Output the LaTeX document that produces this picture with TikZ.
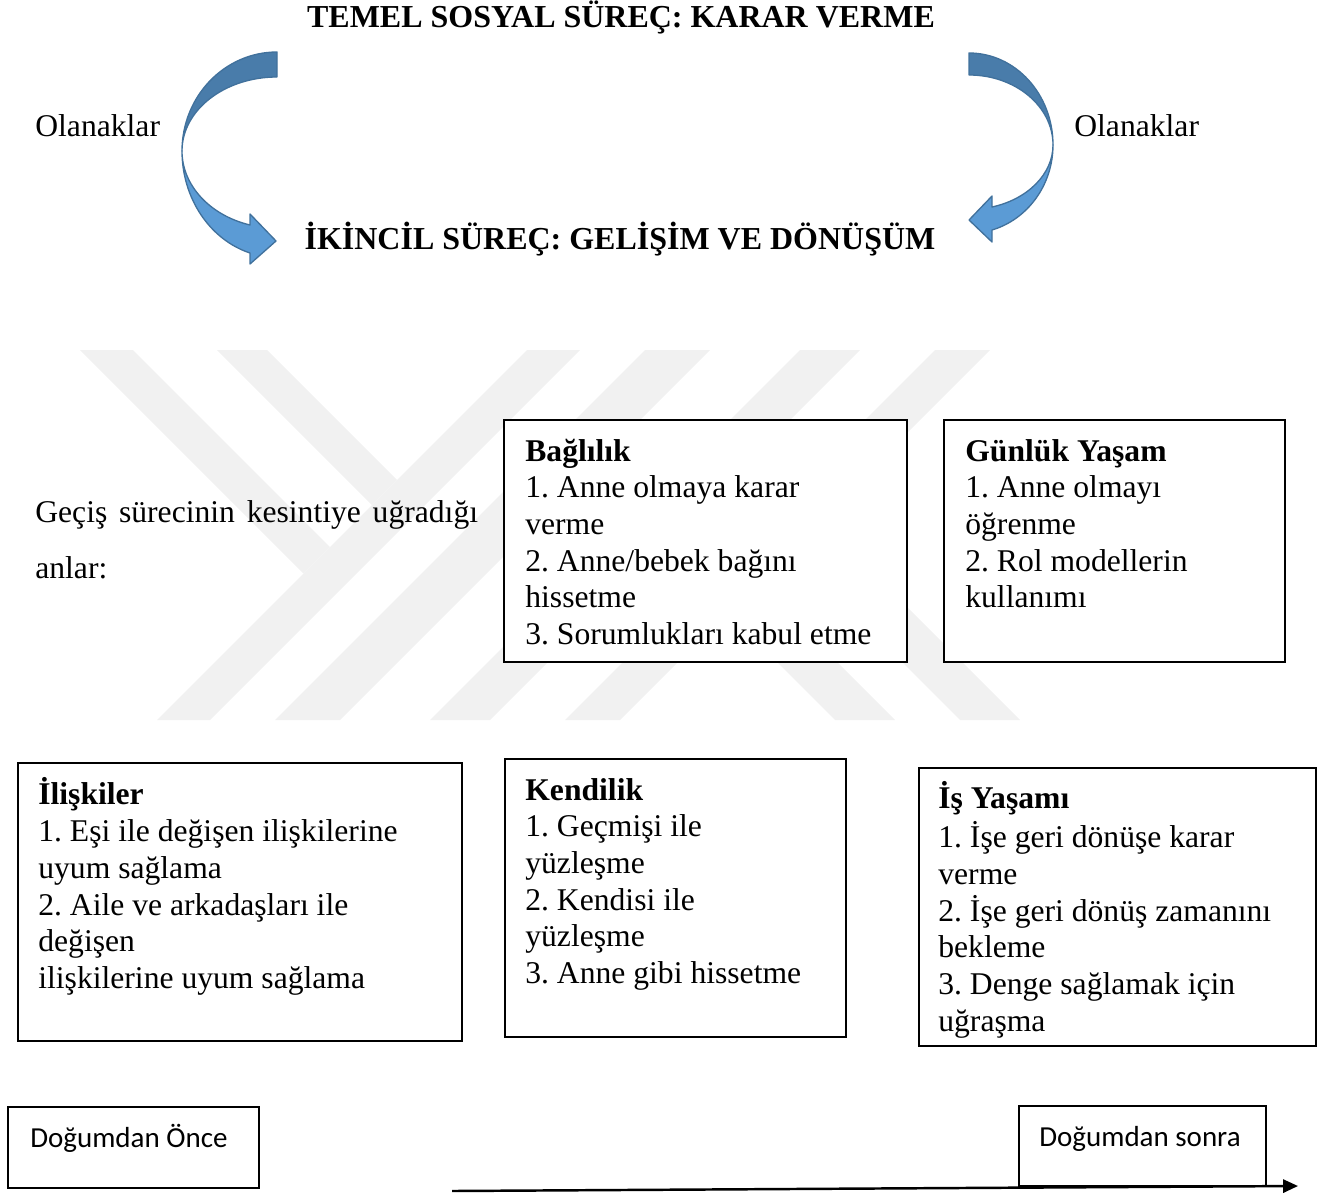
\documentclass[tikz,border=0pt]{standalone}
\usepackage{fontspec}
\setmainfont{Liberation Serif}
\newfontfamily\calibri{Carlito}
\usetikzlibrary{arrows.meta}
\frenchspacing

\definecolor{okkoyu}{RGB}{73,124,170}
\definecolor{okacik}{RGB}{91,155,213}
\definecolor{okcizgi}{RGB}{65,113,156}
\definecolor{filigran}{RGB}{241,241,241}

\tikzstyle{kutu} = [rectangle, draw, fill=white, line width=1pt,
    anchor=north west, inner sep=0pt, outer sep=0pt]
\tikzstyle{metin} = [anchor=north west, inner sep=0pt, align=left,
    font=\fontsize{18}{20.9}\selectfont]
\tikzstyle{baslik} = [anchor=base, inner sep=0pt,
    font=\fontsize{18.2}{20.9}\selectfont\bfseries]
\tikzstyle{etiket} = [anchor=base west, inner sep=0pt,
    font=\fontsize{18}{20.9}\selectfont]
\tikzstyle{donem} = [anchor=base west, inner sep=0pt,
    font=\calibri\fontsize{16.5}{20}\selectfont]
\tikzstyle{serit} = [line width=0.75pt, draw=okcizgi, line join=round]
\tikzstyle{zaman} = [line width=1.4pt, -{Triangle[length=8.5pt,width=7.5pt]}]

\begin{document}
\begin{tikzpicture}[x=0.02cm, y=0.02cm]
	\useasboundingbox (0,0) rectangle (1331,-1193);
	% filigran
	\fill[filigran] (527,-350) -- (580,-350) -- (210,-720) -- (157,-720) -- cycle;
	\fill[filigran] (645,-350) -- (710,-350) -- (340,-720) -- (275,-720) -- cycle;
	\fill[filigran] (800,-350) -- (860,-350) -- (490,-720) -- (430,-720) -- cycle;
	\fill[filigran] (935,-350) -- (990,-350) -- (620,-720) -- (565,-720) -- cycle;
	\fill[filigran] (80,-350) -- (133,-350) -- (330,-547) -- (303.5,-573.5) -- cycle;
	\fill[filigran] (217,-350) -- (267,-350) -- (397,-480) -- (372,-505) -- cycle;
	\fill[filigran] (662.5,-547.5) -- (692.5,-517.5) -- (895,-720) -- (835,-720) -- cycle;
	\fill[filigran] (790,-550) -- (820,-520) -- (1020,-720) -- (960,-720) -- cycle;
	%
	\node [baslik] (temel) at (621,-28) {TEMEL SOSYAL SÜREÇ: KARAR VERME};
	\node [baslik] (ikincil) at (620,-249) {İKİNCİL SÜREÇ: GELİŞİM VE DÖNÜŞÜM};
	\node [etiket] (olsol) at (35,-136) {Olanaklar};
	\node [etiket] (olsag) at (1074,-136) {Olanaklar};
	%
	% sol ok
	\filldraw[serit, fill=okacik] (182,-151)
		arc[start angle=180, end angle=253.49, x radius=95, y radius=106.4]
		-- (250,-264) -- (276,-241) -- (250,-214) -- (250,-225)
		arc[start angle=253.49, end angle=180, x radius=95, y radius=77.2] -- cycle;
	\filldraw[serit, fill=okkoyu] (277,-52)
		arc[start angle=90, end angle=180, x radius=95, y radius=99]
		arc[start angle=180, end angle=90, x radius=95, y radius=74] -- cycle;
	% sag ok
	\filldraw[serit, fill=okacik] (1053,-145)
		arc[start angle=360, end angle=285.9, x radius=84, y radius=88.4]
		-- (992,-242) -- (969,-220) -- (992,-196) -- (992,-207)
		arc[start angle=285.9, end angle=360, x radius=84, y radius=64.5] -- cycle;
	\filldraw[serit, fill=okkoyu] (969,-53)
		arc[start angle=90, end angle=0, x radius=84, y radius=92]
		arc[start angle=0, end angle=90, x radius=84, y radius=70] -- cycle;
	%
	\node [metin, font=\fontsize{18}{31.9}\selectfont] (gecis) at (35,-483)
		{\strut\makebox[252pt][s]{Geçiş sürecinin kesintiye uğradığı}\\anlar:};
	%
	\node [kutu, minimum width=8.06cm, minimum height=4.84cm] (bag) at (504,-420) {};
	\node [metin] (bagtext) at (525,-435) {\strut\textbf{Bağlılık}\\
		1. Anne olmaya karar\\verme\\2. Anne/bebek bağını\\hissetme\\
		3. Sorumlukları kabul etme};
	\node [kutu, minimum width=6.82cm, minimum height=4.84cm] (gun) at (944,-420) {};
	\node [metin] (guntext) at (965,-435) {\strut\textbf{Günlük Yaşam}\\
		1. Anne olmayı\\öğrenme\\2. Rol modellerin\\kullanımı};
	%
	\node [kutu, minimum width=8.88cm, minimum height=5.56cm] (ilis) at (18,-763) {};
	\node [metin] (ilistext) at (38,-777.5) {\strut\textbf{İlişkiler}\\
		1. Eşi ile değişen ilişkilerine\\uyum sağlama\\
		2. Aile ve arkadaşları ile\\değişen\\ilişkilerine uyum sağlama};
	\node [kutu, minimum width=6.82cm, minimum height=5.56cm] (kend) at (505,-759) {};
	\node [metin] (kendtext) at (525,-774) {\strut\textbf{Kendilik}\\
		1. Geçmişi ile\\yüzleşme\\2. Kendisi ile\\yüzleşme\\
		3. Anne gibi hissetme};
	\node [kutu, minimum width=7.94cm, minimum height=5.56cm] (isy) at (919,-768) {};
	\node [metin] (isytext) at (938,-781.5) {\strut\textbf{İş Yaşamı}\\
		1. İşe geri dönüşe karar\\verme\\2. İşe geri dönüş zamanını\\bekleme\\
		3. Denge sağlamak için\\uğraşma};
	%
	\node [kutu, minimum width=5.02cm, minimum height=1.62cm] (once) at (8,-1107) {};
	\node [donem] (oncetext) at (30,-1147) {Doğumdan Önce};
	\node [kutu, minimum width=4.94cm, minimum height=1.60cm] (sonra) at (1019,-1106) {};
	\node [donem] (sonratext) at (1039,-1146) {Doğumdan sonra};
	%
	\coordinate (tbas) at (452,-1191);
	\coordinate (tson) at (1298,-1186);
	\draw [zaman] (tbas) -- (tson);
\end{tikzpicture}
\end{document}
